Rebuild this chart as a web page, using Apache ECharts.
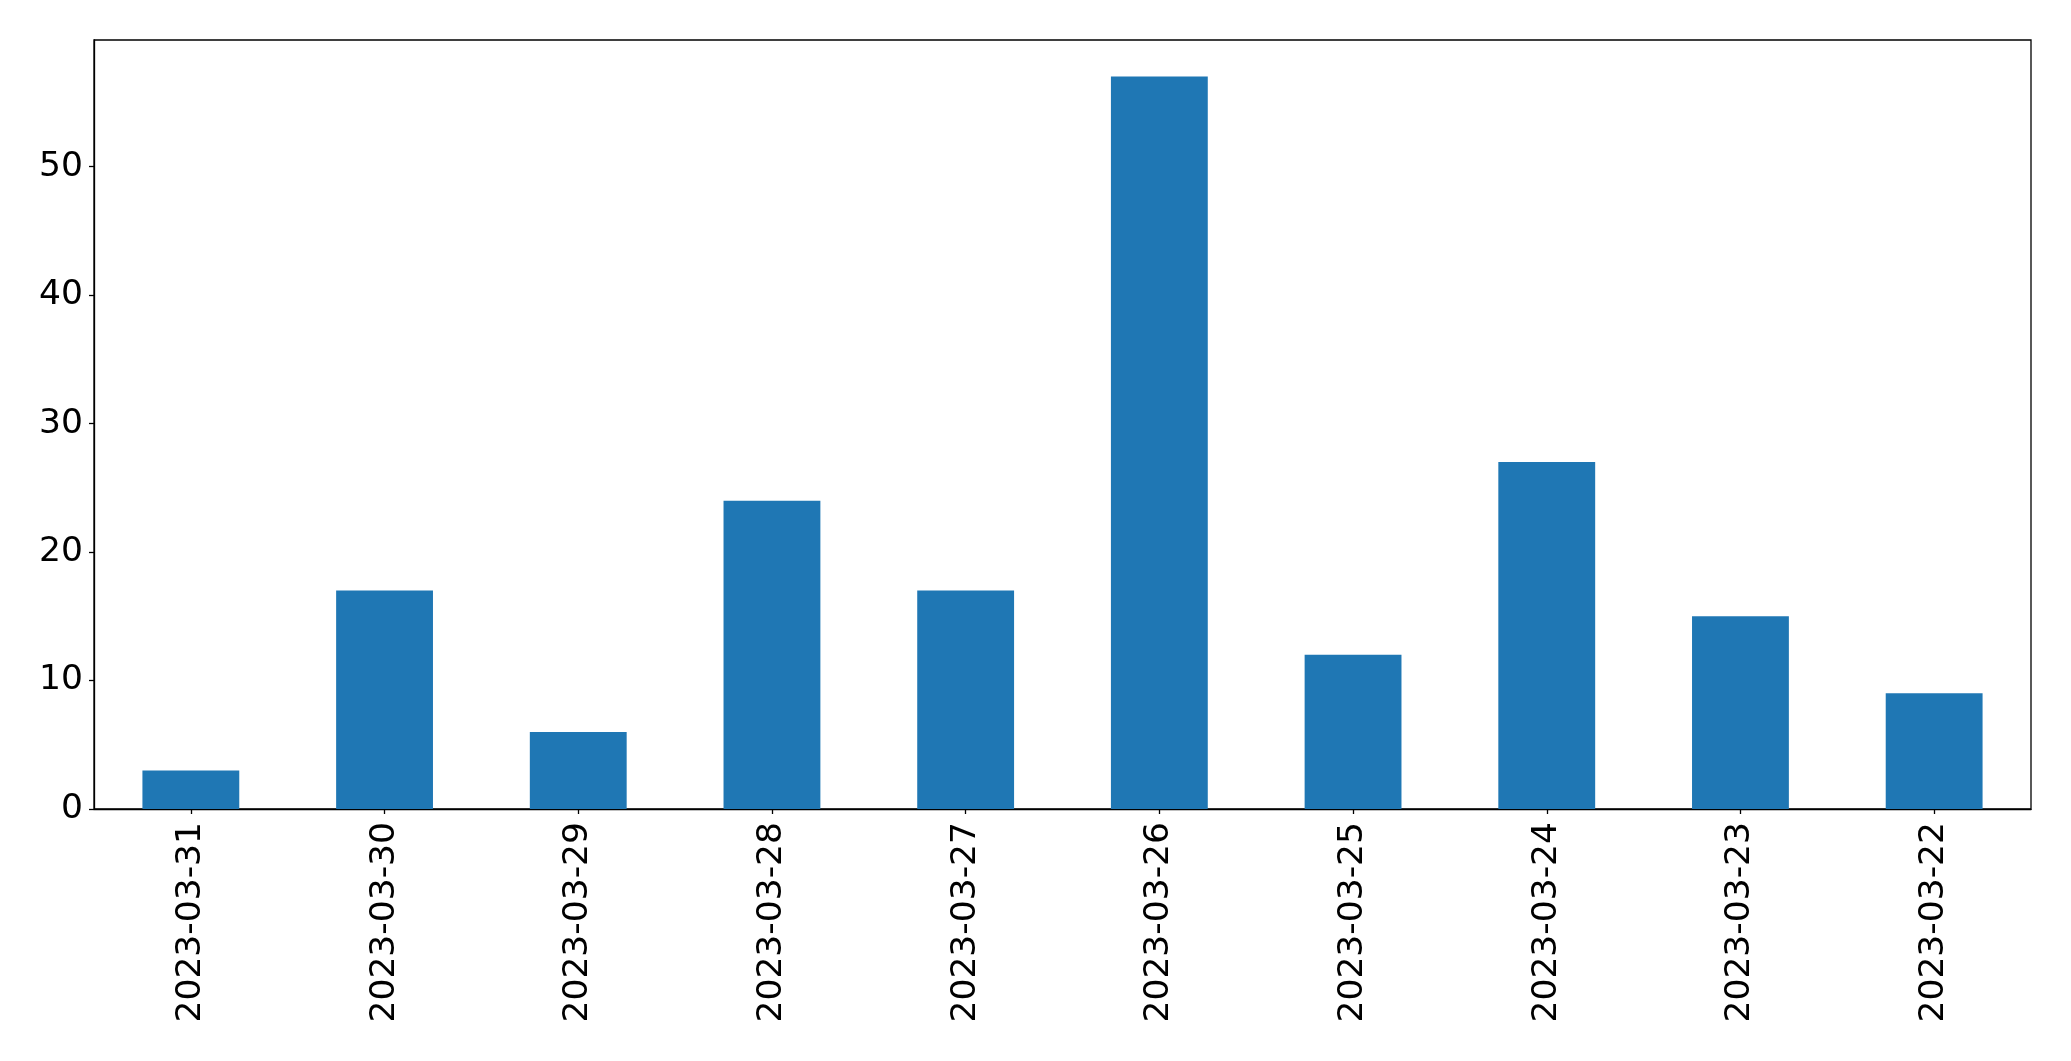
<!DOCTYPE html>
<html>
<head>
<meta charset="utf-8">
<script src="https://cdn.jsdelivr.net/npm/echarts@6/dist/echarts.min.js"></script>
<style>html,body{margin:0;padding:0;background:#fff;}#c{width:2071px;height:1061px;}</style>
</head>
<body>
<div id="c"></div>
<script>
const categories = ['2023-03-31','2023-03-30','2023-03-29','2023-03-28','2023-03-27','2023-03-26','2023-03-25','2023-03-24','2023-03-23','2023-03-22'];
const values = [3, 17, 6, 24, 17, 57, 12, 27, 15, 9];
const yTicks = [0, 10, 20, 30, 40, 50];

const chart = echarts.init(document.getElementById('c'), null, {renderer: 'canvas'});
const font = 'DejaVu Sans';
chart.setOption({
  animation: false,
  backgroundColor: '#ffffff',
  grid: {left: 94, right: 40, top: 40, bottom: 252, show: true, borderColor: '#000', borderWidth: 1.3, backgroundColor: 'transparent'},
  xAxis: {
    type: 'category',
    data: categories,
    axisLine: {show: true, lineStyle: {color: '#000', width: 1.3}},
    axisTick: {show: true, alignWithLabel: true, length: 5, lineStyle: {color: '#000', width: 1.3}},
    axisLabel: {rotate: 90, margin: 13, color: '#000', fontSize: 34.5, fontFamily: font},
    splitLine: {show: false}
  },
  yAxis: {
    type: 'value',
    min: 0,
    max: 59.85,
    interval: 10,
    axisLine: {show: true, lineStyle: {color: '#000', width: 1.3}},
    axisTick: {show: true, length: 5, customValues: yTicks, lineStyle: {color: '#000', width: 1.3}},
    axisLabel: {margin: 11, color: '#000', fontSize: 34.5, fontFamily: font, customValues: yTicks},
    splitLine: {show: false}
  },
  series: [{
    type: 'bar',
    data: values,
    barWidth: '50%',
    itemStyle: {color: '#1f77b4'}
  }]
});
</script>
</body>
</html>
